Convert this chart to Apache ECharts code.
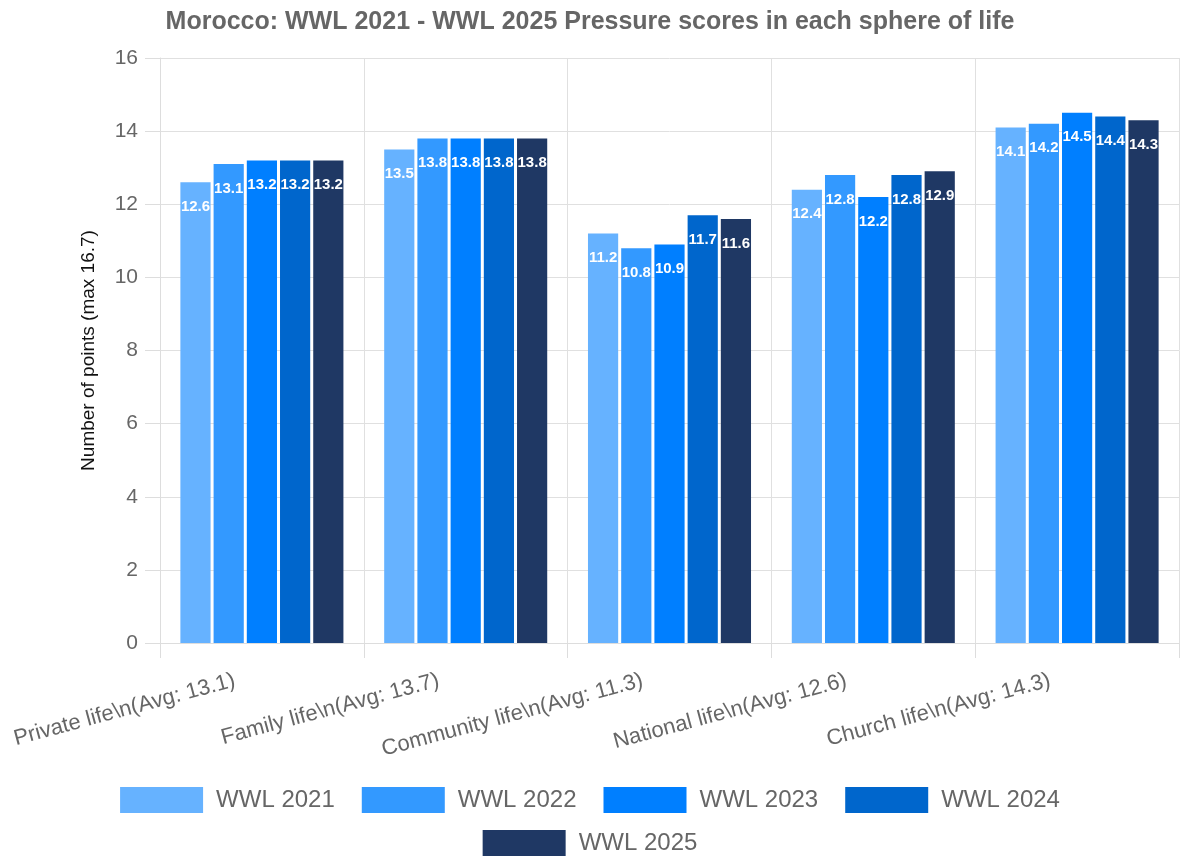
<!DOCTYPE html>
<html>
<head>
<meta charset="utf-8">
<script src="https://cdn.jsdelivr.net/npm/echarts@6/dist/echarts.min.js"></script>
<style>
  html, body { margin: 0; padding: 0; background: #fff; }
  #chart { width: 1180px; height: 859px; }
</style>
</head>
<body>
<div id="chart"></div>
<script>
  // categories (the \n is shown literally in the original)
  var categories = [
    'Private life\\n(Avg: 13.1)',
    'Family life\\n(Avg: 13.7)',
    'Community life\\n(Avg: 11.3)',
    'National life\\n(Avg: 12.6)',
    'Church life\\n(Avg: 14.3)'
  ]
  var years = ['WWL 2021', 'WWL 2022', 'WWL 2023', 'WWL 2024', 'WWL 2025']
  var colors = ['#66B2FF', '#3399FF', '#007FFF', '#0066CC', '#1F3864']

  var wwl2021 = [12.6, 13.5, 11.2, 12.4, 14.1]
  var wwl2022 = [13.1, 13.8, 10.8, 12.8, 14.2]
  var wwl2023 = [13.2, 13.8, 10.9, 12.2, 14.5]
  var wwl2024 = [13.2, 13.8, 11.7, 12.8, 14.4]
  var wwl2025 = [13.2, 13.8, 11.6, 12.9, 14.3]
  var yearData = [wwl2021, wwl2022, wwl2023, wwl2024, wwl2025]

  var series = []
  for (var i = 0; i < years.length; i++) {
    series.push({
      name: years[i],
      type: 'bar',
      data: yearData[i],
      barGap: '10%',
      barCategoryGap: '20%',
      itemStyle: { color: colors[i] },
      label: {
        show: true,
        position: 'insideTop',
        distance: 17,
        color: '#fff',
        fontWeight: 'bold',
        fontSize: 15,
        fontFamily: 'Liberation Sans'
      }
    })
  }

  var legendText = { color: '#666', fontSize: 24, padding: [0, 0, 0, 8] }

  var myChart = echarts.init(document.getElementById('chart'))
  var option = {
    animation: false,
    textStyle: { fontFamily: 'Liberation Sans' },
    title: {
      text: 'Morocco: WWL 2021 - WWL 2025 Pressure scores in each sphere of life',
      left: 'center',
      top: 5,
      textStyle: { color: '#666', fontSize: 25, fontWeight: 'bold', fontFamily: 'Liberation Sans' }
    },
    legend: [{
      data: years.slice(0, 4),
      top: 782,
      left: 'center',
      itemWidth: 83,
      itemHeight: 26,
      itemGap: 27,
      icon: 'rect',
      textStyle: legendText
    }, {
      data: years.slice(4),
      top: 825,
      left: 'center',
      itemWidth: 83,
      itemHeight: 26,
      icon: 'rect',
      textStyle: legendText
    }],
    grid: {
      left: 160,
      right: 1,
      top: 58,
      bottom: 216
    },
    xAxis: {
      type: 'category',
      data: categories,
      axisLine: { lineStyle: { color: '#ddd' } },
      axisTick: { show: true, length: 15, lineStyle: { color: '#ddd' } },
      splitLine: { show: true, lineStyle: { color: '#e0e0e0' } },
      axisLabel: {
        rotate: 15,
        color: '#666',
        fontSize: 22,
        margin: 30,
        padding: [0, 28, 0, 0],
        interval: 0
      }
    },
    yAxis: {
      type: 'value',
      min: 0,
      max: 16,
      interval: 2,
      name: 'Number of points (max 16.7)',
      nameLocation: 'middle',
      nameGap: 62,
      nameTextStyle: { color: '#111', fontSize: 19 },
      axisLine: { show: true, lineStyle: { color: '#ddd' } },
      axisTick: { show: true, length: 15, lineStyle: { color: '#ddd' } },
      splitLine: { lineStyle: { color: '#e0e0e0' } },
      axisLabel: { color: '#666', fontSize: 21, margin: 22 }
    },
    series: series
  }
  myChart.setOption(option)
</script>
</body>
</html>
